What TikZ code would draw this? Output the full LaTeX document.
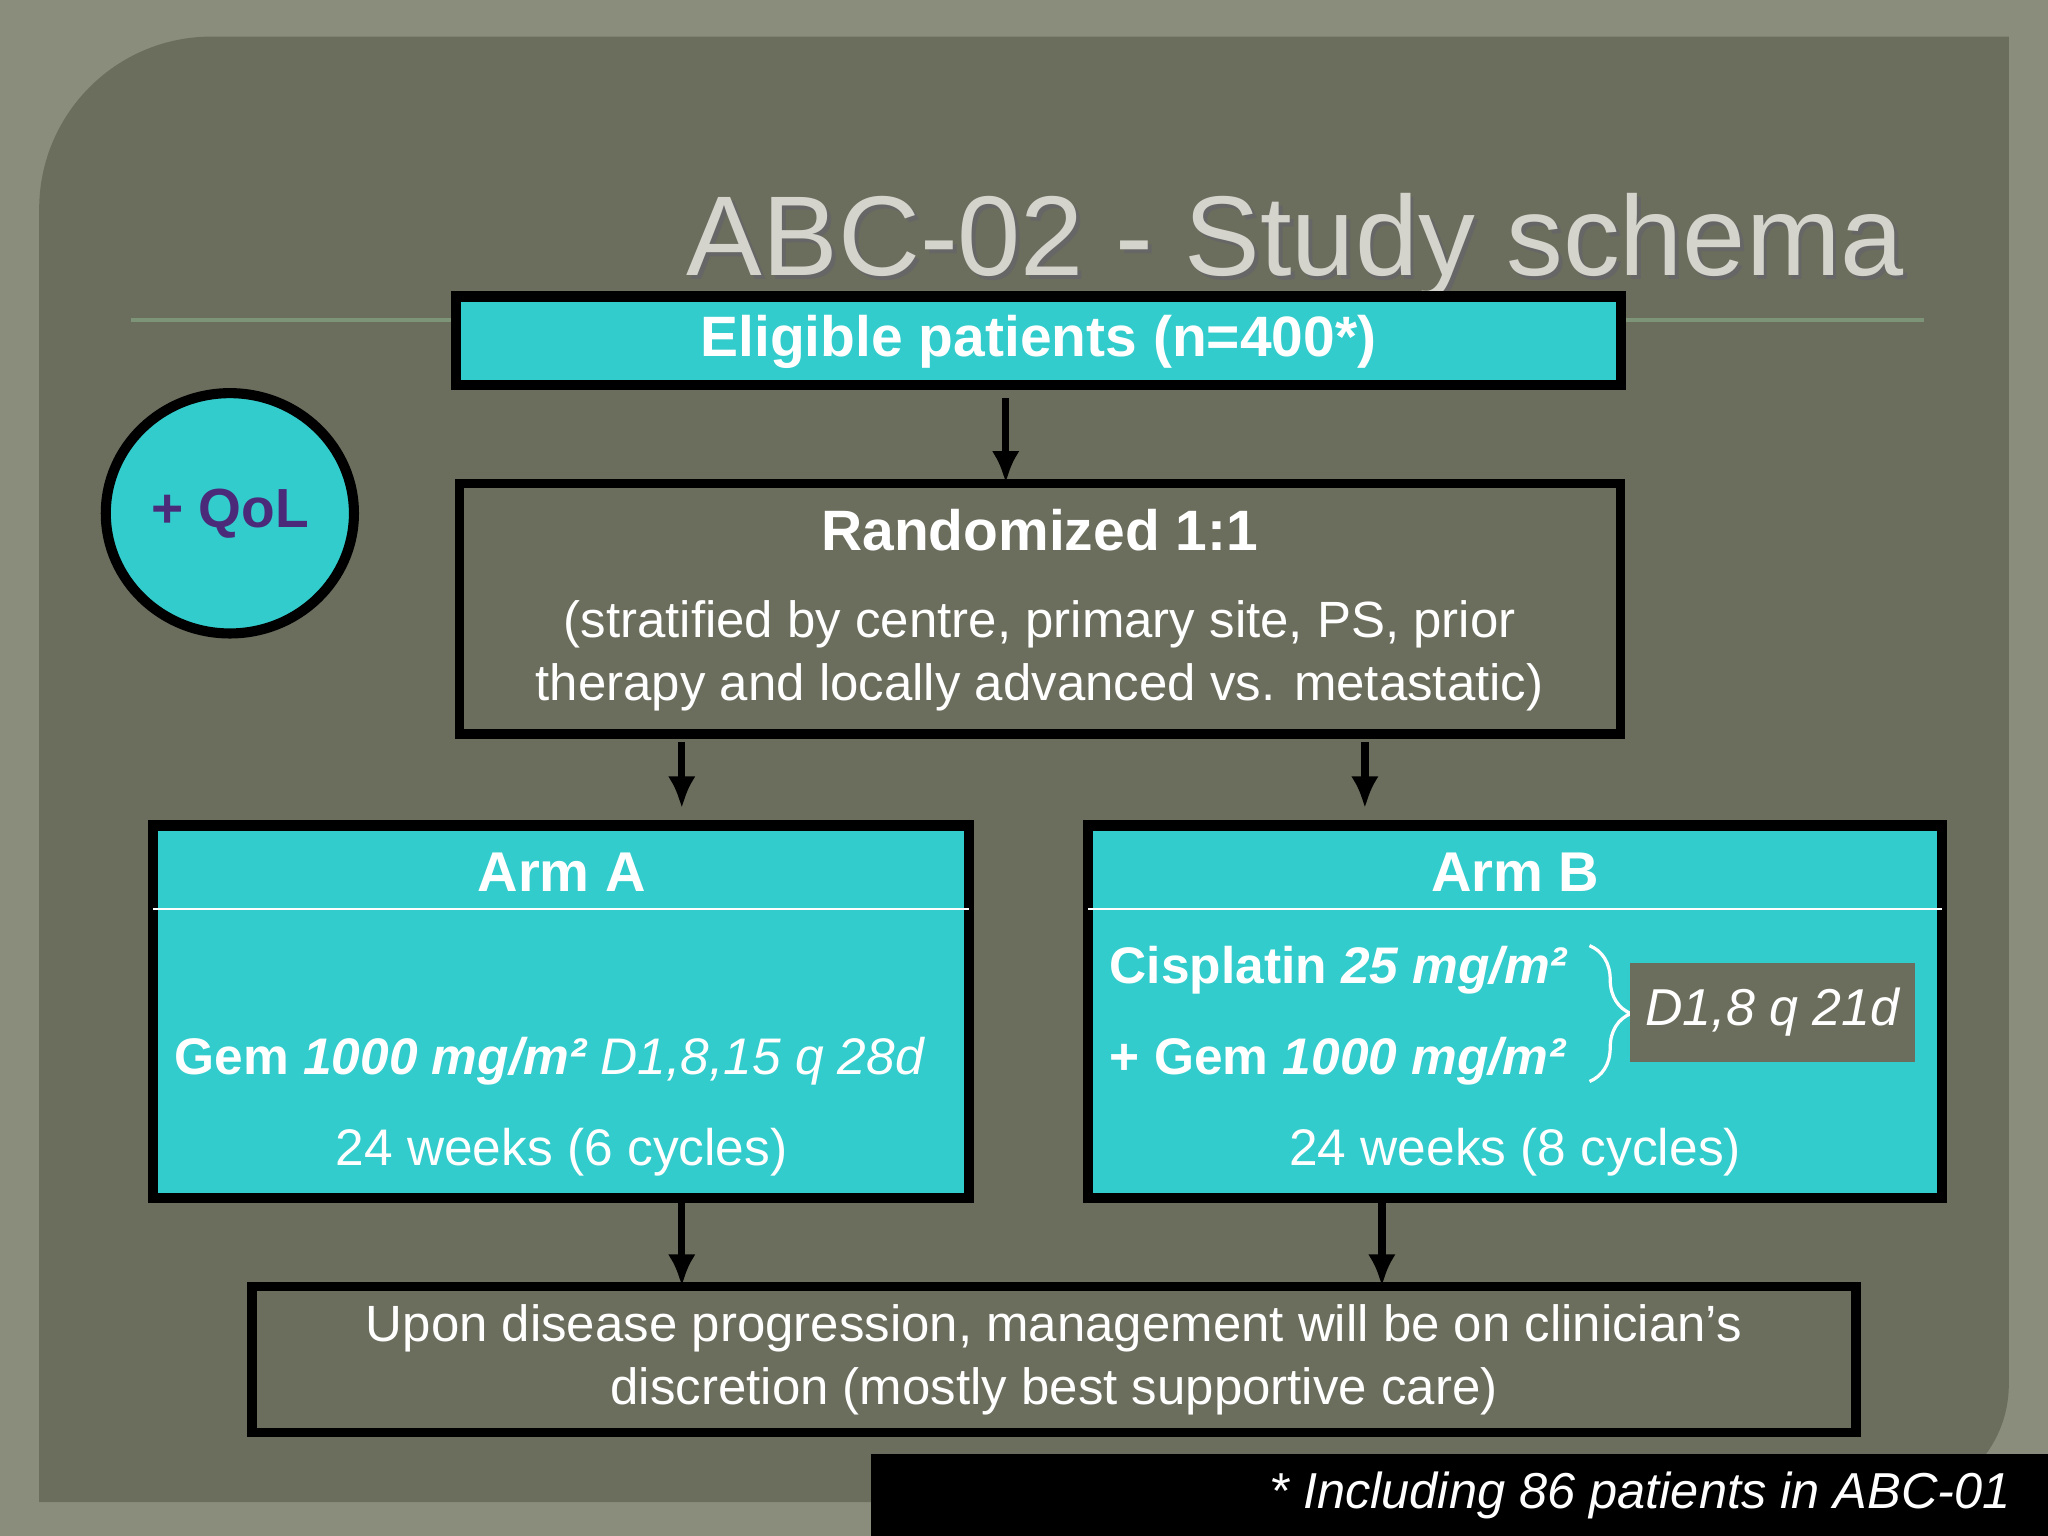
\documentclass[tikz,border=0pt]{standalone}
\usepackage{fontspec}
\setmainfont{Liberation Sans}
\usetikzlibrary{decorations.pathreplacing,shapes.geometric,arrows.meta}
\definecolor{outer}{HTML}{8A8C7C}
\definecolor{panel}{HTML}{6B6D5D}
\definecolor{cy}{HTML}{33CCCC}
\definecolor{ttl}{HTML}{D4D4CC}
\definecolor{qol}{HTML}{4B2A7A}
\definecolor{rule}{HTML}{7E9478}
\tikzset{
 cbox/.style={draw=black,line width=2.2pt,fill=cy},
 dbox/.style={draw=black,line width=2pt,fill=panel},
 arr/.style={-{Latex[length=7pt,width=6pt]},line width=1.6pt,black},
 wt/.style={text=white,font=\fontsize{11.2}{13.5}\selectfont},
}
\begin{document}
\begin{tikzpicture}[x=0.01cm,y=-0.01cm]
\fill[outer] (0,0) rectangle (1568,1176);
\useasboundingbox (0,0) rectangle (1568,1176);
\fill[panel] (30,1150) -- (30,160) arc[start angle=180,end angle=270,radius=132] -- (1538,28) -- (1538,1060) arc[start angle=0,end angle=90,radius=90] -- cycle;
% title
\node[anchor=base east,text=black!60,font=\fontsize{24.7}{30}\selectfont] at (1473,214) {ABC-02 - Study schema};
\node[anchor=base east,text=ttl,font=\fontsize{24.7}{30}\selectfont] (title) at (1470,211) {ABC-02 - Study schema};
\draw[line width=1pt,color=rule] (100,245) -- (1473,245);
% eligible
\draw[cbox] (349,227) rectangle (1241,295);
\node[wt,font=\bfseries\fontsize{12.4}{15}\selectfont] (elig) at (795,262) {Eligible patients (n=400*)};
\coordinate (e1) at (770,305); \coordinate (e2) at (770,370);
\draw[arr] (e1) -- (e2);
% randomized
\draw[dbox] (352,370) rectangle (1241,562);
\node[wt,font=\bfseries\fontsize{12.4}{15}\selectfont] (rand) at (796,406) {Randomized 1:1};
\node[wt,align=center,font=\fontsize{11.1}{13.7}\selectfont] (strat) at (796,502) {(stratified by centre, primary site, PS, prior\\therapy and locally advanced vs. metastatic)};
\coordinate (r1) at (522,568); \coordinate (r2) at (522,619);
\coordinate (r3) at (1045,568); \coordinate (r4) at (1045,619);
\draw[arr] (r1) -- (r2); \draw[arr] (r3) -- (r4);
% arm A
\draw[cbox] (117,632) rectangle (742,917);
\draw[white,line width=0.6pt] (117,696) -- (742,696);
\node[wt,font=\bfseries\fontsize{12.2}{15}\selectfont] (armA) at (430,668) {Arm A};
\node[wt,anchor=base west,inner sep=0pt] (gemA) at (133,823) {\bfseries Gem \itshape 1000 mg/m² \mdseries D1,8,15 q 28d};
\node[wt] (wkA) at (430,882) {24 weeks (6 cycles)};
% arm B
\draw[cbox] (833,632) rectangle (1487,917);
\draw[white,line width=0.6pt] (833,696) -- (1487,696);
\node[wt,font=\bfseries\fontsize{12.2}{15}\selectfont] (armB) at (1160,668) {Arm B};
\node[wt,anchor=base west,inner sep=0pt] (cis) at (849,753) {\bfseries Cisplatin \itshape 25 mg/m²};
\node[wt,anchor=base west,inner sep=0pt] (gemB) at (849,823) {\bfseries + Gem \itshape 1000 mg/m²};
\draw[white,line width=0.7pt,decorate,decoration={brace,amplitude=9pt}] (1217,724) -- (1217,828);
\node[fill=panel,minimum width=206*0.01cm,minimum height=76*0.01cm,wt,font=\itshape\fontsize{11.3}{14}\selectfont] (d18) at (1357,775) {D1,8 q 21d};
\node[wt] (wkB) at (1160,882) {24 weeks (8 cycles)};
\coordinate (a1) at (522,920); \coordinate (a2) at (522,985);
\coordinate (b1) at (1058,920); \coordinate (b2) at (1058,985);
\draw[arr] (a1) -- (a2); \draw[arr] (b1) -- (b2);
% bottom
\draw[dbox] (193,985) rectangle (1421,1097);
\node[wt,align=center,font=\fontsize{11.1}{13.7}\selectfont] (prog) at (807,1041) {Upon disease progression, management will be on clinician’s\\discretion (mostly best supportive care)};
% footer
\fill[black] (667,1113) rectangle (1568,1176);
\node[wt,anchor=east,font=\itshape\fontsize{11}{14}\selectfont] (foot) at (1552,1145) {* Including 86 patients in ABC-01};
% QoL
\node[ellipse,draw=black,line width=2.2pt,fill=cy,inner sep=0pt,minimum width=190*0.01cm,minimum height=184*0.01cm,text=qol,font=\bfseries\fontsize{12}{15}\selectfont] (q) at (176,393) {+ QoL};
\end{tikzpicture}
\end{document}
